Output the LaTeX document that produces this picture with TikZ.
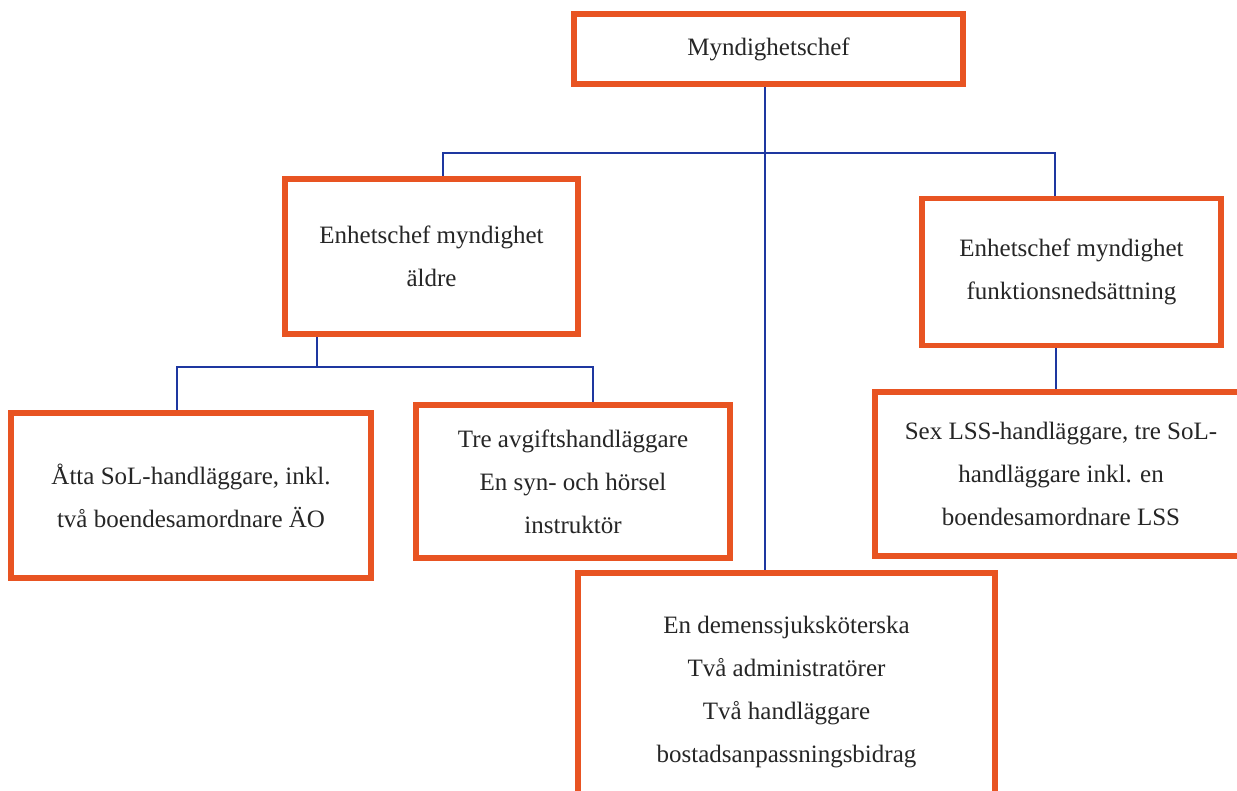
\documentclass[tikz,border=0pt]{standalone}
\usepackage{fontspec}
\setmainfont{Liberation Serif}
\definecolor{boxred}{RGB}{232,84,34}
\definecolor{linkblue}{RGB}{30,55,160}
\begin{document}
\begin{tikzpicture}[x=1pt,y=-1pt,
  orgbox/.style={draw=boxred, line width=3.6pt, fill=white, rectangle, inner sep=0pt,
    align=center, font=\fontsize{25}{43}\selectfont, text=black!85},
  conn/.style={draw=linkblue, line width=1.8pt}]
\useasboundingbox (0,0) rectangle (1237,790);
\clip (0,0) rectangle (1237,790);
\fill[white] (0,0) rectangle (1237,790);
% boxes
\node[orgbox, minimum width=387pt, minimum height=68pt] (top) at (768.5,49) {Myndighetschef};
\node[orgbox, minimum width=291pt, minimum height=153pt] (aldre) at (431.5,256.5) {Enhetschef myndighet\\äldre};
\node[orgbox, minimum width=297pt, minimum height=145pt] (funk) at (1071.5,272) {Enhetschef myndighet\\funktionsnedsättning};
\node[orgbox, minimum width=358pt, minimum height=163pt] (atta) at (191,495.5) {Åtta SoL-handläggare, inkl.\\två boendesamordnare ÄO};
\node[orgbox, minimum width=312pt, minimum height=151pt] (tre) at (573,481.5) {Tre avgiftshandläggare\\En syn- och hörsel\\instruktör};
\node[orgbox, minimum width=370pt, minimum height=162pt] (sex) at (1061,474) {Sex LSS-handläggare, tre SoL-\\handläggare inkl. en\\boendesamordnare LSS};
\node[orgbox, minimum width=415pt, minimum height=236pt] (dem) at (786.5,692) {En demenssjuksköterska\\Två administratörer\\Två handläggare\\bostadsanpassningsbidrag};
% connector coordinates
\coordinate (busL) at (443,153);
\coordinate (busR) at (1055,153);
\coordinate (midX) at (765,0);
\coordinate (subM) at (317,367);
\coordinate (subL) at (177,367);
\coordinate (subR) at (593,367);
\coordinate (funX) at (1056,0);
% connectors
\draw[conn] (midX |- top.south) -- (midX |- dem.north);
\draw[conn] (busL |- aldre.north) -- (busL) -- (busR) -- (busR |- funk.north);
\draw[conn] (subM |- aldre.south) -- (subM);
\draw[conn] (subL |- atta.north) -- (subL) -- (subR) -- (subR |- tre.north);
\draw[conn] (funX |- funk.south) -- (funX |- sex.north);
% redraw box borders over connector ends
\foreach \b in {top,aldre,funk,atta,tre,sex,dem}{
  \draw[boxred, line width=3.6pt] (\b.north west) rectangle (\b.south east);
}
\end{tikzpicture}
\end{document}
